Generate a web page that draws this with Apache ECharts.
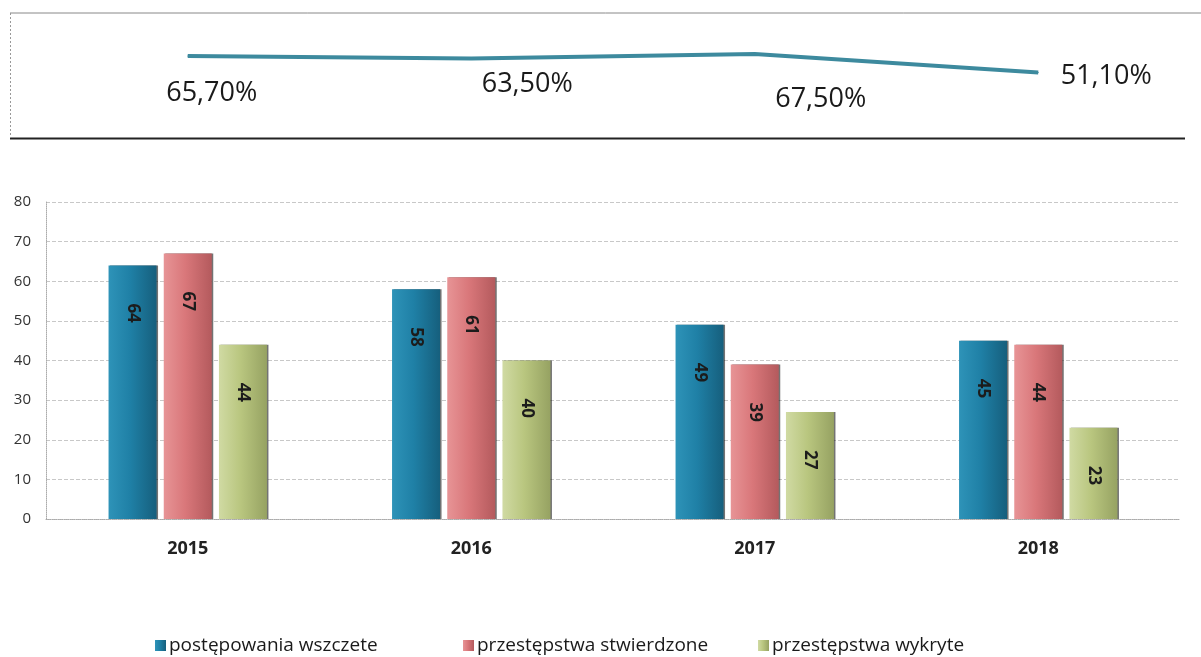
<!DOCTYPE html>
<html>
<head>
<meta charset="utf-8">
<script src="https://cdn.jsdelivr.net/npm/echarts@6/dist/echarts.min.js"></script>
<style>
html,body{margin:0;padding:0;background:#fff;}
#c{width:1201px;height:657px;}
</style>
</head>
<body>
<div id="c"></div>
<script>
// ---- data ----
var years = ['2015', '2016', '2017', '2018'];
var rateValues = [65.7, 63.5, 67.5, 51.1];
var rateLabels = ['65,70%', '63,50%', '67,50%', '51,10%'];
var seriesNames = ['postępowania wszczete', 'przestępstwa stwierdzone', 'przestępstwa wykryte'];
var wszczete = [64, 58, 49, 45];
var stwierdzone = [67, 61, 39, 44];
var wykryte = [44, 40, 27, 23];
var yTicks = [0, 10, 20, 30, 40, 50, 60, 70, 80];

// ---- layout / style (not data) ----
var rateLabelOffsets = [[24, 37], [56, 26], [66, 45], [68, 4]];
var legendLefts = [150, 458, 753];
var FONT = '"Open Sans", "Noto Sans", sans-serif';

function grad(c1, c2, c3) {
  return new echarts.graphic.LinearGradient(0, 0, 1, 0, [
    {offset: 0, color: c1}, {offset: 0.45, color: c2}, {offset: 1, color: c3}
  ]);
}
var barColors = [
  grad('#2e93b8', '#1f80a6', '#165f7d'),
  grad('#e79496', '#d9777a', '#b45a5d'),
  grad('#d0daa3', '#b9c67f', '#96a262')
];
var legendColors = ['#1f80a6', '#d9777a', '#b9c67f'];

var chart = echarts.init(document.getElementById('c'));

function barSeries(i, values) {
  return {
    name: seriesNames[i],
    type: 'bar',
    xAxisIndex: 1,
    yAxisIndex: 1,
    data: values,
    barWidth: 48,
    barGap: '15%',
    itemStyle: {
      color: barColors[i],
      shadowColor: 'rgba(0,0,0,0.55)',
      shadowOffsetX: 1.5,
      shadowBlur: 0
    },
    label: {
      show: true,
      position: 'insideTop',
      distance: 38,
      rotate: -90,
      align: 'left',
      verticalAlign: 'middle',
      fontFamily: FONT,
      fontWeight: 'bold',
      fontSize: 17,
      color: '#1c1c1c'
    },
    emphasis: {disabled: true}
  };
}

var option = {
  backgroundColor: '#fff',
  animation: false,
  color: legendColors,
  legend: seriesNames.map(function (n, i) {
    return {
      data: [n],
      left: legendLefts[i],
      top: 631,
      itemWidth: 11,
      itemHeight: 11,
      icon: 'rect',
      textStyle: {fontFamily: FONT, fontSize: 19, color: '#1a1a1a', padding: [0, 0, 0, -2]}
    };
  }),
  graphic: [
    {type: 'line', shape: {x1: 10, y1: 13, x2: 1201, y2: 13}, style: {stroke: '#888', lineWidth: 1}},
    {type: 'line', shape: {x1: 10, y1: 138.5, x2: 1185, y2: 138.5}, style: {stroke: '#222', lineWidth: 2}},
    {type: 'line', shape: {x1: 10.5, y1: 13, x2: 10.5, y2: 138}, style: {stroke: '#999', lineWidth: 1, lineDash: [2, 2]}}
  ],
  grid: [
    {left: 46, right: 21, top: 14, height: 116},
    {left: 46, right: 21, top: 202, bottom: 138}
  ],
  xAxis: [
    {
      gridIndex: 0, type: 'category', data: years, boundaryGap: true,
      axisLine: {show: false}, axisTick: {show: false}, axisLabel: {show: false}
    },
    {
      gridIndex: 1, type: 'category', data: years,
      axisLine: {show: true, lineStyle: {color: '#aaa', type: 'dotted'}},
      axisTick: {show: false},
      axisLabel: {fontFamily: FONT, fontWeight: 'bold', fontSize: 18, color: '#222', margin: 21}
    }
  ],
  yAxis: [
    {
      gridIndex: 0, type: 'value', min: 0, max: 103,
      axisLine: {show: false}, axisTick: {show: false}, axisLabel: {show: false}, splitLine: {show: false}
    },
    {
      gridIndex: 1, type: 'value', min: yTicks[0], max: yTicks[yTicks.length - 1], interval: 10,
      axisLine: {show: true, lineStyle: {color: '#aaa', type: 'dotted'}},
      axisTick: {show: false},
      axisLabel: {fontFamily: FONT, fontSize: 15, color: '#333', margin: 15},
      splitLine: {show: true, lineStyle: {color: '#c8c8c8', type: 'dashed', width: 1}}
    }
  ],
  series: [
    {
      type: 'line',
      xAxisIndex: 0,
      yAxisIndex: 0,
      data: rateValues,
      symbol: 'none',
      lineStyle: {color: '#3d8a9e', width: 4},
      emphasis: {disabled: true},
      silent: true
    },
    {
      type: 'scatter',
      xAxisIndex: 0,
      yAxisIndex: 0,
      data: rateValues.map(function (v, i) {
        return {value: v, label: {offset: rateLabelOffsets[i]}};
      }),
      symbolSize: 1,
      itemStyle: {color: '#3d8a9e', opacity: 1},
      label: {
        show: true,
        position: 'inside',
        align: 'center',
        verticalAlign: 'middle',
        fontFamily: FONT,
        fontSize: 27,
        color: '#1a1a1a',
        formatter: function (p) { return rateLabels[p.dataIndex]; }
      },
      emphasis: {disabled: true},
      silent: true
    },
    barSeries(0, wszczete),
    barSeries(1, stwierdzone),
    barSeries(2, wykryte)
  ]
};
chart.setOption(option);
</script>
</body>
</html>
